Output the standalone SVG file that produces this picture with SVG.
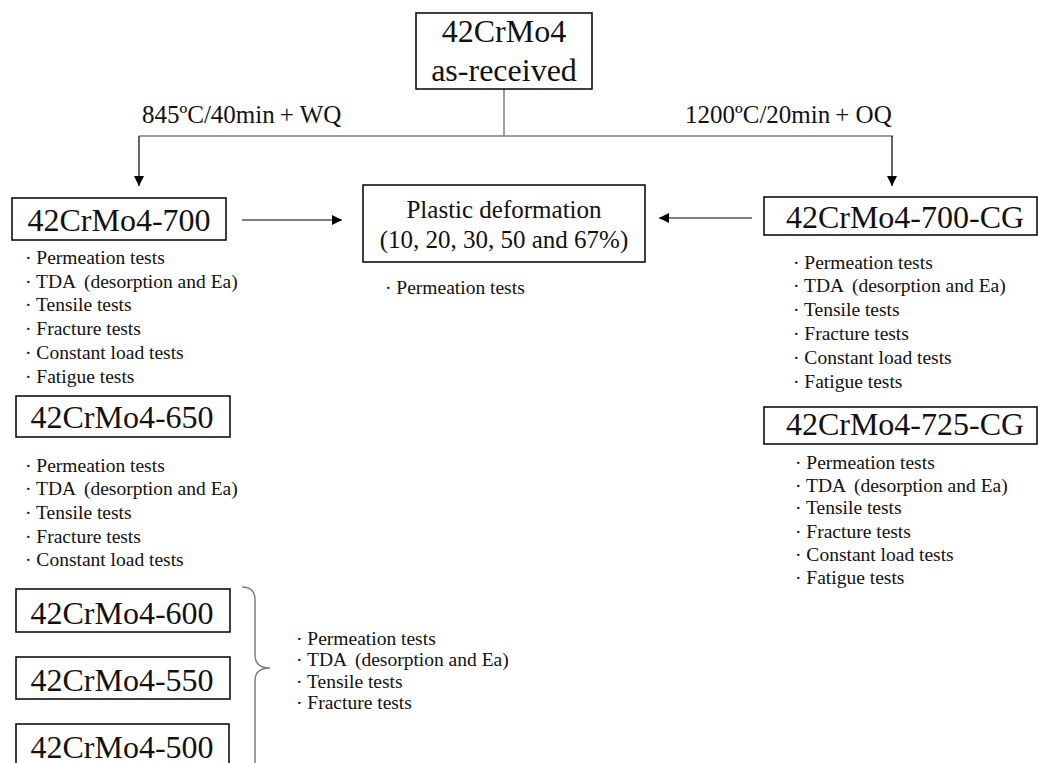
<svg xmlns="http://www.w3.org/2000/svg" width="1038" height="763" viewBox="0 0 1038 763">
<style>
.box{fill:#fff;stroke:#000;stroke-width:1.5}
text{font-family:'Liberation Serif',serif;fill:#111}
.big{font-size:32px;text-anchor:middle}
.mid{font-size:25px}
.lst{font-size:19.5px}
.gray{fill:none;stroke:#7f7f7f;stroke-width:1.5}
.ln{fill:none;stroke:#000;stroke-width:1.2}
</style>
<defs>
<marker id="ah" viewBox="0 0 10 10" refX="10" refY="5" markerWidth="10" markerHeight="10" markerUnits="userSpaceOnUse" orient="auto">
<path d="M0,0 L10,5 L0,10 z" fill="#000"/>
</marker>
</defs>
<rect width="1038" height="763" fill="#fff"/>
<g id="connectors">
<line class="gray" x1="504" y1="89" x2="504" y2="136"/>
<line class="gray" x1="139" y1="136" x2="893" y2="136"/>
<line class="ln" x1="139" y1="136" x2="139" y2="186" marker-end="url(#ah)"/>
<line class="ln" x1="892" y1="136" x2="892" y2="186" marker-end="url(#ah)"/>
<line class="ln" x1="242" y1="220" x2="342" y2="220" marker-end="url(#ah)"/>
<line class="ln" x1="752" y1="218" x2="659" y2="218" marker-end="url(#ah)"/>
<path class="gray" d="M242,587 Q255,587 255,600 L255,655 Q255,668 270,668 Q255,668 255,681 L255,765"/>
<text class="mid" x="142" y="123">845ºC/40min<tspan dx="5">+ WQ</tspan></text>
<text class="mid" x="685" y="123">1200ºC/20min<tspan dx="5">+ OQ</tspan></text>
</g>
<g id="node-asreceived">
<rect class="box" x="416" y="13" width="176" height="76"/>
<text class="big" x="504" y="42">42CrMo4</text>
<text class="big" x="504" y="81">as-received</text>
</g>
<g id="node-700">
<rect class="box" x="12" y="198" width="214" height="42"/>
<text class="big" x="119" y="231">42CrMo4-700</text>
<text class="lst"><tspan x="25" y="264">· Permeation tests</tspan><tspan x="25" y="288">· TDA <tspan dx="4">(desorption and Ea)</tspan></tspan><tspan x="25" y="311">· Tensile tests</tspan><tspan x="25" y="335">· Fracture tests</tspan><tspan x="25" y="359">· Constant load tests</tspan><tspan x="25" y="383">· Fatigue tests</tspan></text>
</g>
<g id="node-plastic">
<rect class="box" x="363" y="185" width="282" height="77"/>
<text class="mid" x="504" y="218" text-anchor="middle">Plastic deformation</text>
<text class="mid" x="504" y="248" text-anchor="middle">(10, 20, 30, 50 and 67%)</text>
<text class="lst" x="385" y="294">· Permeation tests</text>
</g>
<g id="node-700cg">
<rect class="box" x="764" y="197" width="273" height="38"/>
<text class="big" x="905" y="228">42CrMo4-700-CG</text>
<text class="lst"><tspan x="793" y="269">· Permeation tests</tspan><tspan x="793" y="292">· TDA <tspan dx="4">(desorption and Ea)</tspan></tspan><tspan x="793" y="316">· Tensile tests</tspan><tspan x="793" y="340">· Fracture tests</tspan><tspan x="793" y="364">· Constant load tests</tspan><tspan x="793" y="388">· Fatigue tests</tspan></text>
</g>
<g id="node-650">
<rect class="box" x="16" y="396" width="214" height="41"/>
<text class="big" x="122" y="428">42CrMo4-650</text>
<text class="lst"><tspan x="25" y="472">· Permeation tests</tspan><tspan x="25" y="495">· TDA <tspan dx="4">(desorption and Ea)</tspan></tspan><tspan x="25" y="519">· Tensile tests</tspan><tspan x="25" y="543">· Fracture tests</tspan><tspan x="25" y="566">· Constant load tests</tspan></text>
</g>
<g id="node-725cg">
<rect class="box" x="764" y="407" width="273" height="37"/>
<text class="big" x="905" y="435">42CrMo4-725-CG</text>
<text class="lst"><tspan x="795" y="469">· Permeation tests</tspan><tspan x="795" y="492">· TDA <tspan dx="4">(desorption and Ea)</tspan></tspan><tspan x="795" y="514">· Tensile tests</tspan><tspan x="795" y="538">· Fracture tests</tspan><tspan x="795" y="561">· Constant load tests</tspan><tspan x="795" y="584">· Fatigue tests</tspan></text>
</g>
<g id="node-600">
<rect class="box" x="16" y="589" width="214" height="43"/>
<text class="big" x="122" y="624">42CrMo4-600</text>
</g>
<g id="node-550">
<rect class="box" x="16" y="657" width="214" height="42"/>
<text class="big" x="122" y="691">42CrMo4-550</text>
</g>
<g id="node-500">
<rect class="box" x="16" y="724" width="213" height="50"/>
<text class="big" x="122" y="758">42CrMo4-500</text>
</g>
<g id="brace-list">
<text class="lst"><tspan x="296" y="645">· Permeation tests</tspan><tspan x="296" y="666">· TDA <tspan dx="4">(desorption and Ea)</tspan></tspan><tspan x="296" y="688">· Tensile tests</tspan><tspan x="296" y="709">· Fracture tests</tspan></text>
</g>
</svg>
